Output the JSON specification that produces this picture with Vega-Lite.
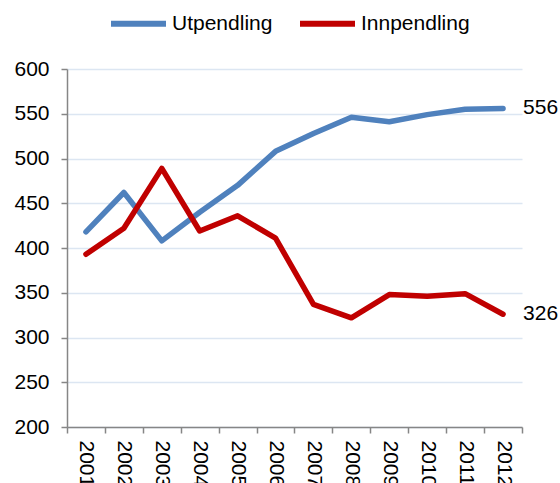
{
  "$schema": "https://vega.github.io/schema/vega-lite/v6.json",
  "width": 455,
  "height": 358,
  "autosize": {"type": "none"},
  "padding": {"left": 67, "top": 69, "right": 38, "bottom": 56},
  "background": "white",
  "config": {
    "font": "Liberation Sans",
    "view": {"stroke": null},
    "axis": {
      "labelFont": "Liberation Sans",
      "labelFontSize": 21,
      "labelColor": "#000000",
      "domainColor": "#868686",
      "domainWidth": 1.5,
      "tickColor": "#868686",
      "tickWidth": 1.5,
      "tickSize": 6,
      "title": null
    }
  },
  "data": {
    "values": [
      {"year": "2001", "series": "Utpendling", "value": 418},
      {"year": "2002", "series": "Utpendling", "value": 462},
      {"year": "2003", "series": "Utpendling", "value": 408},
      {"year": "2004", "series": "Utpendling", "value": 440},
      {"year": "2005", "series": "Utpendling", "value": 470},
      {"year": "2006", "series": "Utpendling", "value": 508},
      {"year": "2007", "series": "Utpendling", "value": 528},
      {"year": "2008", "series": "Utpendling", "value": 546},
      {"year": "2009", "series": "Utpendling", "value": 541},
      {"year": "2010", "series": "Utpendling", "value": 549},
      {"year": "2011", "series": "Utpendling", "value": 555},
      {"year": "2012", "series": "Utpendling", "value": 556},
      {"year": "2001", "series": "Innpendling", "value": 393},
      {"year": "2002", "series": "Innpendling", "value": 422},
      {"year": "2003", "series": "Innpendling", "value": 489},
      {"year": "2004", "series": "Innpendling", "value": 419},
      {"year": "2005", "series": "Innpendling", "value": 436},
      {"year": "2006", "series": "Innpendling", "value": 411},
      {"year": "2007", "series": "Innpendling", "value": 337},
      {"year": "2008", "series": "Innpendling", "value": 322},
      {"year": "2009", "series": "Innpendling", "value": 348},
      {"year": "2010", "series": "Innpendling", "value": 346},
      {"year": "2011", "series": "Innpendling", "value": 349},
      {"year": "2012", "series": "Innpendling", "value": 326}
    ]
  },
  "encoding": {
    "x": {
      "field": "year",
      "type": "ordinal",
      "bandPosition": 0.5,
      "scale": {"type": "band", "paddingInner": 0, "paddingOuter": 0},
      "axis": {
        "tickBand": "extent",
        "labelAngle": 90,
        "labelPadding": 7,
        "grid": false
      }
    },
    "y": {
      "field": "value",
      "type": "quantitative",
      "scale": {"domain": [200, 600], "nice": false, "zero": false},
      "axis": {
        "values": [200, 250, 300, 350, 400, 450, 500, 550, 600],
        "grid": true,
        "gridColor": "#DCE6F2",
        "gridWidth": 1.5,
        "labelPadding": 12
      }
    }
  },
  "layer": [
    {
      "mark": {"type": "line", "strokeWidth": 5.5, "strokeCap": "round", "strokeJoin": "round"},
      "encoding": {
        "color": {
          "field": "series",
          "type": "nominal",
          "scale": {"domain": ["Utpendling", "Innpendling"], "range": ["#4F81BD", "#C00000"]},
          "legend": {
            "title": null,
            "orient": "none",
            "direction": "horizontal",
            "legendX": 41,
            "legendY": -76,
            "padding": 0,
            "symbolType": "stroke",
            "symbolSize": 3025,
            "symbolStrokeWidth": 6,
            "labelFontSize": 21,
            "labelFont": "Liberation Sans",
            "labelColor": "#000000",
            "labelOffset": 3,
            "columnPadding": 15
          }
        }
      }
    },
    {
      "transform": [{"filter": "datum.year == '2012'"}],
      "mark": {"type": "text", "align": "left", "baseline": "middle", "dx": 20, "fontSize": 21, "font": "Liberation Sans", "color": "#000000"},
      "encoding": {
        "text": {"field": "value", "type": "quantitative"}
      }
    }
  ]
}
